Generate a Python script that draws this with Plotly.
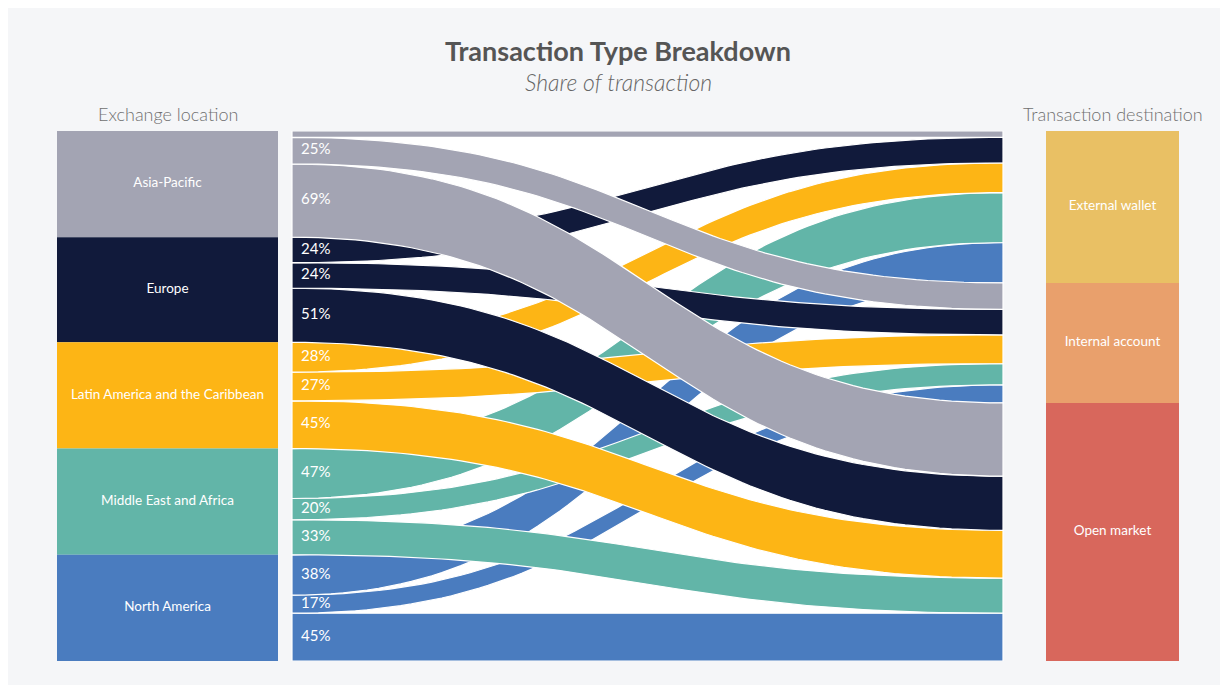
import numpy as np
import plotly.graph_objects as go

# ---------------- data ----------------
regions = ["Asia-Pacific", "Europe", "Latin America and the Caribbean",
           "Middle East and Africa", "North America"]
destinations = ["External wallet", "Internal account", "Open market"]
external_wallet = [6, 24, 28, 47, 38]
internal_account = [25, 24, 27, 20, 17]
open_market = [69, 51, 45, 33, 45]

region_colors = ["#a3a4b3", "#111a3b", "#fdb515", "#62b5a8", "#4a7cbf"]
dest_colors = ["#e9c064", "#e9a06c", "#d8675c"]

# ---------------- layout geometry (page-like x units) ----------------
LEFT_X0, LEFT_X1 = 57, 278
FLOW_X0, FLOW_X1 = 292, 1003
RIGHT_X0, RIGHT_X1 = 1046, 1179

flows = np.array([external_wallet, internal_account, open_market]).T  # region x dest
total = flows.sum()

# left positions: regions stacked, inside each region destinations stacked
left_start = {}
pos = 0.0
region_starts, region_sizes = [], []
for i in range(len(regions)):
    region_starts.append(pos)
    for j in range(len(destinations)):
        left_start[(i, j)] = pos
        pos += flows[i, j]
    region_sizes.append(pos - region_starts[-1])

# right positions: destinations stacked, inside each destination regions stacked
right_start = {}
pos = 0.0
dest_starts, dest_sizes = [], []
for j in range(len(destinations)):
    dest_starts.append(pos)
    for i in range(len(regions)):
        right_start[(i, j)] = pos
        pos += flows[i, j]
    dest_sizes.append(pos - dest_starts[-1])

t = np.linspace(0, 1, 80)
cx = (FLOW_X0 + FLOW_X1) / 2


def bez(y0, y1):
    xs = ((1 - t) ** 3) * FLOW_X0 + 3 * ((1 - t) ** 2) * t * cx + 3 * (1 - t) * t ** 2 * cx + t ** 3 * FLOW_X1
    ys = ((1 - t) ** 3) * y0 + 3 * ((1 - t) ** 2) * t * y0 + 3 * (1 - t) * t ** 2 * y1 + t ** 3 * y1
    return xs, ys


fig = go.Figure()

# flow bands: bottom regions first so upper regions lie on top
for i in reversed(range(len(regions))):
    for j in reversed(range(len(destinations))):
        v = flows[i, j]
        l0 = left_start[(i, j)]
        r0 = right_start[(i, j)]
        xt, yt = bez(l0, r0)
        xb, yb = bez(l0 + v, r0 + v)
        xs = np.concatenate([xt, xb[::-1], xt[:1]])
        ys = np.concatenate([yt, yb[::-1], yt[:1]])
        fig.add_trace(go.Scatter(
            x=xs, y=ys, mode="lines", fill="toself",
            fillcolor=region_colors[i],
            line=dict(color="white", width=1.2),
            hoverinfo="skip", showlegend=False))

# left region blocks
fig.add_trace(go.Bar(
    x=[(LEFT_X0 + LEFT_X1) / 2] * len(regions), y=region_sizes, base=region_starts,
    width=LEFT_X1 - LEFT_X0, marker=dict(color=region_colors, line=dict(width=0)),
    hoverinfo="skip", showlegend=False))
# right destination blocks
fig.add_trace(go.Bar(
    x=[(RIGHT_X0 + RIGHT_X1) / 2] * len(destinations), y=dest_sizes, base=dest_starts,
    width=RIGHT_X1 - RIGHT_X0, marker=dict(color=dest_colors, line=dict(width=0)),
    hoverinfo="skip", showlegend=False))

# block labels
fig.add_trace(go.Scatter(
    x=[(LEFT_X0 + LEFT_X1) / 2] * len(regions),
    y=[s + h / 2 for s, h in zip(region_starts, region_sizes)],
    text=regions, mode="text", textfont=dict(family="Lato", size=13.5, color="white"),
    hoverinfo="skip", showlegend=False))
fig.add_trace(go.Scatter(
    x=[(RIGHT_X0 + RIGHT_X1) / 2] * len(destinations),
    y=[s + h / 2 for s, h in zip(dest_starts, dest_sizes)],
    text=destinations, mode="text", textfont=dict(family="Lato", size=13.5, color="white"),
    hoverinfo="skip", showlegend=False))

# percentage labels on the left end of each flow
px, py, ptxt = [], [], []
for i in range(len(regions)):
    for j in range(len(destinations)):
        v = flows[i, j]
        if v >= 10:
            px.append(FLOW_X0 + 9)
            py.append(left_start[(i, j)] + v / 2)
            ptxt.append(f"{v}%")
fig.add_trace(go.Scatter(
    x=px, y=py, text=ptxt, mode="text", textposition="middle right",
    textfont=dict(family="Lato", size=15, color="white"),
    hoverinfo="skip", showlegend=False))

fig.update_layout(
    width=1220, height=677,
    margin=dict(l=49, r=49, t=123, b=24),
    paper_bgcolor="#f5f6f8", plot_bgcolor="#f5f6f8",
    barmode="overlay",
    xaxis=dict(range=[LEFT_X0, RIGHT_X1], visible=False, fixedrange=True),
    yaxis=dict(range=[total, 0], visible=False, fixedrange=True),
    shapes=[dict(type="rect", xref="x", yref="y", x0=FLOW_X0, x1=FLOW_X1,
                 y0=0, y1=total, fillcolor="white", line=dict(width=0), layer="below")],
    annotations=[
        dict(text="Transaction Type Breakdown", xref="paper", yref="paper",
             x=0.5, y=1, yshift=81, yanchor="middle", showarrow=False,
             font=dict(family="Lato", size=27, weight=700, color="#555555")),
        dict(text="<i>Share of transaction</i>", xref="paper", yref="paper",
             x=0.5, y=1, yshift=49, yanchor="middle", showarrow=False,
             font=dict(family="Lato", size=23, weight=300, color="#666666")),
        dict(text="Exchange location", xref="x", yref="paper",
             x=(LEFT_X0 + LEFT_X1) / 2, y=1, yshift=17, yanchor="middle", showarrow=False,
             font=dict(family="Lato", size=18, weight=300, color="#707070")),
        dict(text="Transaction destination", xref="x", yref="paper",
             x=(RIGHT_X0 + RIGHT_X1) / 2, y=1, yshift=17, yanchor="middle", showarrow=False,
             font=dict(family="Lato", size=18, weight=300, color="#707070")),
    ],
)

fig.write_html("out.html")
